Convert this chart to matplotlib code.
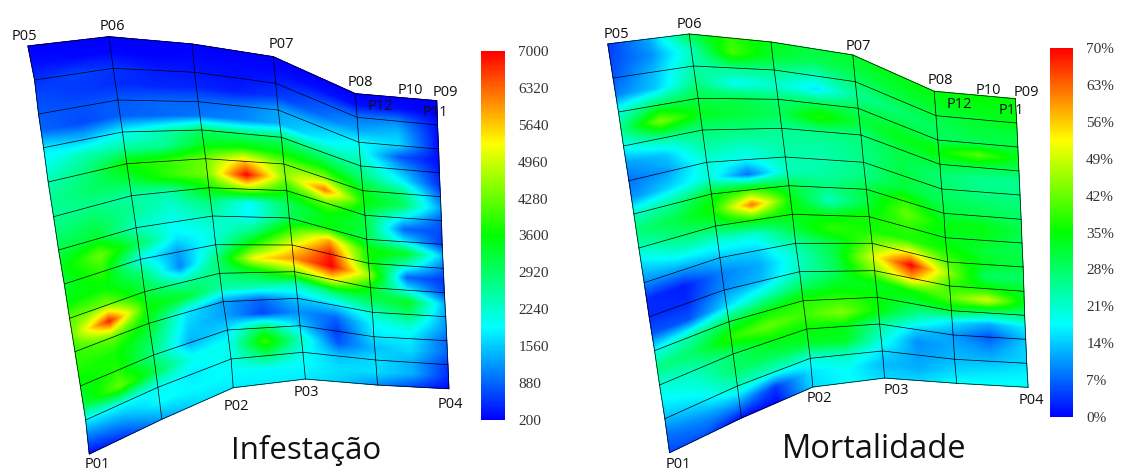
import numpy as np
import matplotlib
matplotlib.use("Agg")
import matplotlib.pyplot as plt
from matplotlib.colors import LinearSegmentedColormap, Normalize
from matplotlib.cm import ScalarMappable

# corners of the plot grid, px on the page, [line across][line down]
inf_x = [[27.9, 108.9, 192.1, 273.2, 355.4, 436.8],
         [34.6, 113.2, 194.6, 275.7, 357.1, 437.5],
         [38.6, 117.9, 198.2, 278.2, 358.9, 438.6],
         [43.6, 122.5, 201.8, 281.4, 360.7, 439.3],
         [48.2, 126.8, 205.7, 283.9, 362.9, 440.4],
         [53.6, 131.4, 208.9, 286.8, 365.0, 441.4],
         [58.6, 136.1, 212.5, 289.3, 366.8, 442.1],
         [64.3, 140.4, 215.7, 292.1, 368.6, 443.2],
         [69.6, 144.6, 219.6, 294.6, 370.4, 444.3],
         [75.0, 148.9, 223.2, 297.5, 372.5, 445.7],
         [80.4, 153.6, 227.5, 300.0, 373.9, 446.8],
         [85.7, 157.9, 231.1, 302.9, 375.7, 447.9],
         [89.3, 161.8, 233.2, 305.4, 377.5, 448.9]]
inf_y = [[46.0, 36.7, 44.0, 56.7, 93.7, 100.7],
         [80.0, 68.3, 72.3, 83.3, 117.3, 125.0],
         [114.0, 100.0, 101.7, 110.0, 142.3, 149.0],
         [147.7, 132.0, 130.0, 137.3, 166.0, 172.7],
         [182.0, 163.7, 158.7, 164.0, 190.7, 196.7],
         [216.7, 195.7, 187.7, 190.7, 215.3, 220.7],
         [250.0, 227.7, 216.0, 218.0, 239.3, 244.3],
         [284.0, 259.3, 244.7, 245.0, 263.3, 268.3],
         [318.3, 291.7, 273.3, 271.7, 287.7, 292.7],
         [351.7, 323.3, 301.7, 298.3, 312.3, 316.7],
         [386.0, 355.0, 330.0, 325.7, 336.7, 340.7],
         [420.0, 387.3, 359.0, 352.3, 360.0, 364.7],
         [454.0, 419.3, 387.7, 379.0, 385.0, 388.7]]
mor_x = [[607.8, 689.2, 771.0, 852.8, 934.2, 1015.3],
         [613.1, 693.5, 774.2, 855.3, 936.0, 1016.7],
         [618.5, 698.1, 778.1, 858.1, 937.8, 1017.8],
         [623.5, 702.4, 781.7, 861.0, 939.9, 1018.9],
         [628.9, 706.7, 785.3, 863.5, 941.7, 1020.0],
         [633.9, 711.4, 788.9, 866.4, 943.9, 1021.1],
         [638.9, 715.6, 792.4, 869.2, 945.3, 1022.0],
         [644.2, 719.9, 795.6, 872.1, 947.8, 1023.1],
         [649.2, 724.2, 799.6, 874.6, 949.6, 1023.9],
         [654.6, 728.9, 803.1, 877.4, 951.4, 1024.6],
         [659.6, 733.1, 806.7, 879.6, 953.1, 1025.7],
         [664.9, 737.4, 810.3, 882.4, 954.6, 1026.7],
         [669.6, 741.4, 812.8, 884.6, 956.7, 1028.1]]
mor_y = [[44.0, 34.0, 42.0, 55.0, 91.3, 98.7],
         [78.0, 66.0, 70.0, 81.7, 115.7, 123.0],
         [112.0, 98.3, 99.3, 108.3, 140.0, 147.0],
         [146.0, 130.0, 128.3, 135.0, 164.3, 171.0],
         [180.7, 162.3, 157.0, 162.3, 189.0, 195.0],
         [214.0, 194.0, 185.7, 189.3, 213.3, 219.3],
         [248.0, 226.0, 214.3, 216.7, 237.7, 243.0],
         [282.7, 257.7, 243.3, 243.3, 262.0, 267.0],
         [316.7, 290.0, 271.7, 270.7, 286.0, 291.3],
         [350.7, 321.7, 300.7, 297.3, 310.7, 315.3],
         [385.0, 354.0, 329.0, 324.0, 335.0, 339.3],
         [418.7, 386.0, 358.3, 351.0, 359.3, 363.3],
         [452.7, 418.0, 387.0, 378.0, 383.3, 387.3]]

# readings on every grid line and every cell middle, both directions
infestacao = [[200, 200, 200, 200, 200, 200, 200, 200, 200, 200, 200],
              [300, 250, 250, 200, 250, 250, 250, 300, 300, 300, 200],
              [500, 650, 550, 400, 350, 300, 400, 700, 1000, 1100, 300],
              [700, 600, 500, 450, 450, 400, 600, 900, 1300, 1500, 300],
              [800, 750, 800, 900, 900, 1000, 1300, 1500, 1900, 1700, 300],
              [900, 700, 850, 900, 1000, 1100, 1400, 1800, 2200, 800, 300],
              [1800, 1500, 1900, 2400, 2900, 2800, 2800, 2600, 2500, 1400, 400],
              [2000, 2500, 2500, 2600, 3400, 3600, 3400, 3400, 2900, 1900, 500],
              [2400, 2800, 3700, 3900, 4300, 5600, 4300, 4500, 3400, 2800, 900],
              [2600, 2900, 3200, 3900, 4400, 7000, 4500, 6200, 3600, 3000, 1300],
              [2600, 2700, 2500, 2500, 3700, 4700, 3700, 4300, 3100, 1900, 800],
              [2800, 3000, 2600, 2200, 2800, 1900, 3000, 3500, 3200, 900, 700],
              [3100, 3300, 2300, 2000, 2400, 1900, 3000, 3600, 3100, 1800, 600],
              [3400, 4300, 3000, 1800, 2100, 2700, 4000, 5900, 3700, 3400, 1500],
              [3300, 3900, 2000, 1300, 2200, 3800, 5200, 6800, 3700, 2300, 1000],
              [3500, 3600, 2900, 1100, 2800, 5300, 6000, 7000, 4600, 900, 600],
              [4200, 4400, 3200, 2500, 2800, 3300, 4500, 5300, 3500, 1900, 700],
              [4300, 6800, 3600, 3300, 2500, 2500, 2300, 2900, 3100, 3400, 1400],
              [3900, 4300, 3400, 1800, 1300, 900, 1600, 1700, 2300, 2900, 1300],
              [3800, 3700, 3000, 1600, 1300, 700, 1200, 900, 1900, 2200, 1200],
              [3500, 3800, 2700, 1400, 1700, 3000, 1600, 600, 1800, 1800, 900],
              [3200, 4300, 3100, 2000, 2000, 4000, 2300, 800, 1500, 1700, 900],
              [1900, 2000, 2000, 1800, 2000, 2900, 2000, 1500, 1700, 1400, 600],
              [1000, 1300, 1900, 1900, 1900, 1900, 1900, 1700, 1700, 1400, 500],
              [300, 600, 1300, 1700, 1800, 1800, 1800, 1600, 1200, 700, 250]]
mortalidade = [[4, 12, 30, 38, 33, 31, 32, 34, 34, 35, 35],
               [5, 10, 22, 40, 32, 29, 31, 32, 33, 34, 34],
               [6, 13, 23, 26, 26, 22, 28, 30, 31, 32, 34],
               [9, 14, 26, 18, 21, 16, 25, 27, 29, 31, 31],
               [20, 29, 30, 30, 27, 29, 29, 31, 29, 29, 31],
               [25, 44, 33, 31, 29, 37, 31, 33, 35, 41, 33],
               [19, 25, 27, 27, 25, 26, 27, 31, 31, 30, 29],
               [11, 14, 24, 22, 24, 24, 26, 30, 27, 25, 25],
               [8, 11, 20, 18, 23, 23, 26, 31, 28, 26, 26],
               [10, 15, 20, 8, 22, 24, 26, 31, 29, 28, 27],
               [21, 25, 33, 38, 30, 26, 30, 38, 31, 30, 28],
               [27, 30, 36, 62, 35, 22, 31, 42, 34, 34, 30],
               [22, 27, 30, 36, 34, 34, 36, 38, 33, 33, 29],
               [15, 20, 20, 20, 31, 38, 36, 37, 36, 31, 30],
               [10, 11, 14, 15, 24, 31, 42, 53, 40, 33, 30],
               [3, 2, 9, 12, 21, 30, 50, 70, 45, 28, 28],
               [3, 3, 10, 13, 22, 29, 44, 58, 38, 35, 32],
               [6, 6, 15, 22, 28, 33, 33, 36, 41, 50, 33],
               [18, 24, 29, 34, 37, 38, 35, 31, 32, 27, 27],
               [26, 28, 38, 42, 39, 44, 35, 24, 16, 12, 17],
               [20, 23, 28, 34, 35, 34, 25, 15, 11, 6, 14],
               [17, 20, 28, 29, 32, 33, 21, 10, 12, 10, 15],
               [13, 16, 22, 21, 20, 22, 16, 11, 13, 13, 15],
               [8, 10, 12, 4, 16, 18, 13, 12, 15, 16, 17],
               [5, 6, 1, 1, 15, 18, 15, 15, 18, 18, 18]]

inf_ticks = [200, 880, 1560, 2240, 2920, 3600, 4280, 4960, 5640, 6320, 7000]
mor_ticks = [0, 7, 14, 21, 28, 35, 42, 49, 56, 63, 70]
mor_labels = ["0%", "7%", "14%", "21%", "28%", "35%", "42%", "49%", "56%", "63%", "70%"]

point_names = ["P01", "P02", "P03", "P04", "P05", "P06", "P07", "P08", "P09", "P10", "P11", "P12"]
inf_label_x = [97, 236, 306, 450, 24, 112, 281, 360, 445, 410, 435, 380]
inf_label_y = [465, 407, 393, 404, 36, 27, 45, 82, 93, 91, 113, 107]
mor_label_x = [678, 819, 896, 1031, 616, 689, 858, 940, 1026, 988, 1011, 959]
mor_label_y = [465, 398, 390, 400, 34, 24, 47, 80, 92, 90, 110, 105]

colors = ["#0000ff", "#00ffff", "#00ff00", "#ffff00", "#ff0000"]
cmap = LinearSegmentedColormap.from_list("tec", colors, N=256)

label_font = ["Open Sans", "DejaVu Sans"]
title_font = ["Open Sans", "DejaVu Sans"]

u_fine = np.linspace(0, 5, 151)
v_fine = np.linspace(0, 12, 361)


def resample(table):
    # bilinear, only so the colours go through the scale and not rgb blending
    table = np.array(table, dtype=float)
    u_from = np.linspace(0, 5, table.shape[1])
    v_from = np.linspace(0, 12, table.shape[0])
    a = np.array([np.interp(u_fine, u_from, row) for row in table])
    return np.array([np.interp(v_fine, v_from, col) for col in a.T]).T


fig = plt.figure(figsize=(11.26, 4.72), dpi=100, facecolor="white")
ax = fig.add_axes([0, 0, 1, 1])
ax.set_xlim(0, 1126)
ax.set_ylim(472, 0)
ax.axis("off")


def draw_panel(gx, gy, table, vmin, vmax):
    gx = np.array(gx)
    gy = np.array(gy)
    ax.pcolormesh(resample(gx), resample(gy), resample(table), cmap=cmap, vmin=vmin, vmax=vmax, shading="gouraud")
    ax.plot(gx, gy, color="black", lw=0.5)
    ax.plot(gx.T, gy.T, color="black", lw=0.5)


def draw_bar(left, top, right, bottom, vmin, vmax, ticks, labels):
    cax = fig.add_axes([left / 1126, 1 - bottom / 472, (right - left) / 1126, (bottom - top) / 472])
    sm = ScalarMappable(norm=Normalize(vmin, vmax), cmap=cmap)
    cb = fig.colorbar(sm, cax=cax)
    cb.outline.set_visible(False)
    cb.set_ticks(ticks)
    cb.set_ticklabels(labels)
    cb.ax.tick_params(length=0, pad=9.5, labelsize=11, labelcolor="#333333")
    for t in cb.ax.get_yticklabels():
        t.set_family("Liberation Serif")


draw_panel(inf_x, inf_y, infestacao, 200, 7000)
draw_panel(mor_x, mor_y, mortalidade, 0, 70)
draw_bar(481, 51, 505, 420, 200, 7000, inf_ticks, [str(t) for t in inf_ticks])
draw_bar(1050, 48, 1073, 417, 0, 70, mor_ticks, mor_labels)

for i in range(len(point_names)):
    ax.text(inf_label_x[i], inf_label_y[i], point_names[i], family=label_font, fontsize=10.5,
            ha="center", va="center", color="#111111")
    ax.text(mor_label_x[i], mor_label_y[i], point_names[i], family=label_font, fontsize=10.5,
            ha="center", va="center", color="#111111")

ax.text(306, 450, "Infestação", family=title_font, fontsize=22.5, ha="center", va="center", color="#111111")
ax.text(874, 449, "Mortalidade", family=title_font, fontsize=23.5, ha="center", va="center", color="#111111")

fig.savefig("out.png", dpi=100)
